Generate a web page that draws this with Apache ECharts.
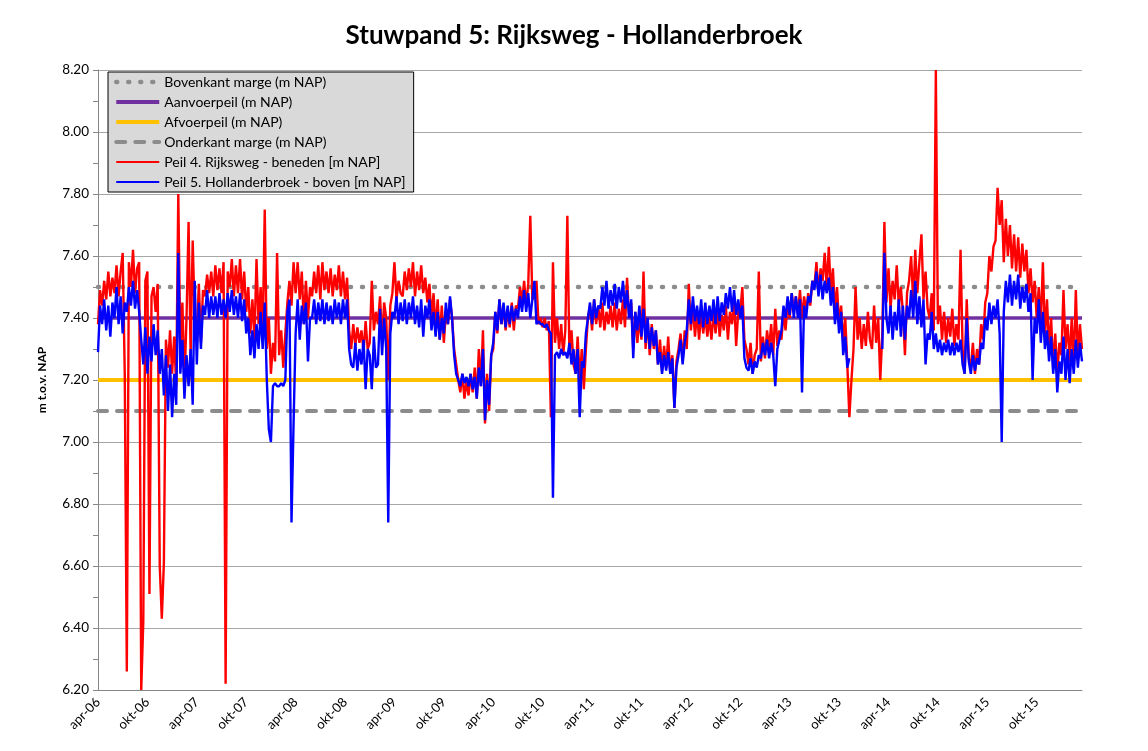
<!DOCTYPE html>
<html>
<head>
<meta charset="utf-8">
<script src="https://cdn.jsdelivr.net/npm/echarts@6/dist/echarts.min.js"></script>
<style>
  html, body { margin: 0; padding: 0; background: #fff; }
  #chart { width: 1148px; height: 751px; }
</style>
</head>
<body>
<div id="chart"></div>
<script>
// x-as: maanden vanaf apr-06, 4 metingen per maand
const STEP = 0.25;
const xLabels = ["apr-06", "okt-06", "apr-07", "okt-07", "apr-08", "okt-08", "apr-09", "okt-09",
  "apr-10", "okt-10", "apr-11", "okt-11", "apr-12", "okt-12", "apr-13", "okt-13",
  "apr-14", "okt-14", "apr-15", "okt-15"];
const yTicks = [6.2, 6.4, 6.6, 6.8, 7.0, 7.2, 7.4, 7.6, 7.8, 8.0, 8.2];

// vaste peilen (m NAP)
const bovenkant = 7.5;
const aanvoerpeil = 7.4;
const afvoerpeil = 7.2;
const onderkant = 7.1;

// Peil 4. Rijksweg - beneden, per jaar (apr t/m mrt)
const peil4 = [
  7.38,7.49,7.44,7.52, 7.46,7.55,7.47,7.53, 7.48,7.57,7.47,7.55, 7.61,7.22,6.26,7.58, 7.50,7.62,7.48,7.56, 7.58,6.20,6.42,7.52,
  7.55,6.51,7.47,7.50, 7.42,7.51,6.60,6.43, 6.61,7.33,7.24,7.36, 7.22,7.34,7.18,7.80, 7.30,7.45,7.19,7.40, 7.71,7.28,7.65,7.40,
  // 2007-08
  7.35,7.51,7.32,7.49, 7.47,7.54,7.48,7.55, 7.47,7.57,7.49,7.56, 7.48,7.58,6.22,7.55, 7.50,7.59,7.47,7.57, 7.48,7.59,7.46,7.55,
  7.42,7.50,7.35,7.46, 7.33,7.59,7.38,7.50, 7.35,7.75,7.30,7.40, 7.22,7.32,7.26,7.61, 7.28,7.36,7.24,7.35, 7.45,7.52,7.44,7.58,
  // 2008-09
  7.48,7.58,7.46,7.55, 7.38,7.52,7.40,7.50, 7.47,7.55,7.48,7.57, 7.46,7.58,7.49,7.55, 7.48,7.56,7.47,7.54, 7.49,7.57,7.47,7.55,
  7.46,7.53,7.36,7.30, 7.38,7.31,7.37,7.32, 7.36,7.29,7.39,7.30, 7.32,7.52,7.36,7.42, 7.38,7.47,7.33,7.45, 7.40,7.20,7.44,7.48,
  // 2009-10
  7.58,7.46,7.52,7.48, 7.47,7.55,7.49,7.56, 7.50,7.58,7.47,7.55, 7.49,7.57,7.48,7.53, 7.45,7.51,7.40,7.48, 7.36,7.46,7.33,7.44,
  7.32,7.42,7.38,7.46, 7.40,7.30,7.25,7.20, 7.16,7.22,7.14,7.20, 7.15,7.22,7.16,7.24, 7.14,7.30,7.18,7.36, 7.06,7.22,7.10,7.28,
  // 2010-11
  7.30,7.42,7.35,7.46, 7.38,7.44,7.36,7.43, 7.37,7.45,7.36,7.44, 7.43,7.50,7.45,7.52, 7.44,7.51,7.73,7.46, 7.47,7.52,7.38,7.40,
  7.37,7.40,7.36,7.39, 7.08,7.58,7.32,7.40, 7.30,7.38,7.28,7.36, 7.73,7.28,7.36,7.25, 7.22,7.34,7.20,7.30, 7.17,7.30,7.40,7.44,
  // 2011-12
  7.36,7.46,7.38,7.44, 7.37,7.45,7.36,7.42, 7.38,7.44,7.37,7.45, 7.36,7.43,7.38,7.46, 7.37,7.53,7.40,7.45, 7.30,7.42,7.32,7.40,
  7.33,7.55,7.30,7.40, 7.28,7.38,7.30,7.36, 7.25,7.33,7.23,7.31, 7.24,7.34,7.22,7.28, 7.11,7.26,7.30,7.35, 7.26,7.36,7.30,7.51,
  // 2012-13
  7.36,7.44,7.34,7.42, 7.33,7.42,7.35,7.41, 7.34,7.40,7.33,7.42, 7.35,7.43,7.34,7.41, 7.36,7.44,7.33,7.42, 7.38,7.46,7.31,7.42,
  7.42,7.50,7.33,7.30, 7.25,7.32,7.22,7.28, 7.30,7.55,7.26,7.34, 7.27,7.36,7.30,7.38, 7.28,7.43,7.31,7.36, 7.33,7.42,7.36,7.45,
  // 2013-14
  7.40,7.48,7.42,7.47, 7.41,7.49,7.40,7.47, 7.42,7.48,7.44,7.52, 7.50,7.58,7.48,7.56, 7.52,7.61,7.50,7.63, 7.48,7.56,7.42,7.50,
  7.38,7.44,7.32,7.40, 7.25,7.08,7.20,7.30, 7.50,7.33,7.40,7.30, 7.38,7.31,7.42,7.33, 7.30,7.44,7.32,7.40, 7.20,7.35,7.71,7.45,
  // 2014-15
  7.56,7.43,7.52,7.46, 7.57,7.44,7.50,7.42, 7.28,7.48,7.52,7.60, 7.45,7.62,7.48,7.58, 7.67,7.46,7.55,7.43, 7.40,7.48,7.36,8.20,
  7.38,7.44,7.33,7.42, 7.32,7.40,7.34,7.43, 7.31,7.38,7.33,7.62, 7.30,7.22,7.46,7.27, 7.24,7.32,7.22,7.30, 7.25,7.38,7.33,7.45,
  // 2015-16
  7.48,7.60,7.55,7.63, 7.65,7.82,7.70,7.78, 7.58,7.72,7.60,7.70, 7.56,7.67,7.55,7.66, 7.53,7.64,7.55,7.62, 7.48,7.56,7.45,7.52,
  7.40,7.50,7.38,7.58, 7.34,7.46,7.30,7.40, 7.24,7.35,7.22,7.32, 7.28,7.49,7.30,7.38, 7.26,7.40,7.24,7.49, 7.27,7.38,7.30
];

// Peil 5. Hollanderbroek - boven
const peil5 = [
  7.29,7.44,7.38,7.46, 7.36,7.44,7.34,7.45, 7.40,7.50,7.38,7.47, 7.35,7.45,7.42,7.50, 7.44,7.52,7.43,7.49, 7.42,7.33,7.25,7.37,
  7.22,7.34,7.26,7.38, 7.28,7.36,7.22,7.30, 7.15,7.28,7.10,7.25, 7.08,7.22,7.12,7.61, 7.22,7.33,7.14,7.28, 7.18,7.30,7.12,7.52,
  // 2007-08
  7.25,7.45,7.30,7.44, 7.41,7.49,7.40,7.47, 7.41,7.47,7.40,7.48, 7.41,7.46,7.40,7.48, 7.42,7.49,7.41,7.47, 7.40,7.48,7.39,7.46,
  7.35,7.40,7.28,7.36, 7.27,7.38,7.30,7.42, 7.30,7.45,7.20,7.04, 7.00,7.18,7.19,7.18, 7.18,7.19,7.18,7.20, 7.42,7.46,6.74,7.06,
  // 2008-09
  7.35,7.46,7.33,7.44, 7.38,7.45,7.26,7.40, 7.40,7.46,7.38,7.45, 7.39,7.46,7.38,7.45, 7.39,7.44,7.38,7.46, 7.40,7.45,7.38,7.46,
  7.40,7.46,7.30,7.25, 7.24,7.32,7.23,7.30, 7.25,7.33,7.17,7.30, 7.28,7.17,7.34,7.24, 7.25,7.43,7.28,7.40, 7.30,6.74,7.35,7.42,
  // 2009-10
  7.40,7.47,7.38,7.45, 7.39,7.46,7.38,7.45, 7.40,7.47,7.38,7.44, 7.37,7.46,7.34,7.44, 7.40,7.46,7.36,7.42, 7.34,7.42,7.33,7.40,
  7.35,7.45,7.38,7.47, 7.40,7.28,7.22,7.20, 7.18,7.22,7.19,7.21, 7.18,7.22,7.17,7.21, 7.14,7.24,7.18,7.30, 7.07,7.20,7.12,7.28,
  // 2010-11
  7.32,7.42,7.36,7.46, 7.38,7.45,7.37,7.44, 7.38,7.44,7.39,7.43, 7.40,7.47,7.42,7.49, 7.42,7.48,7.40,7.46, 7.52,7.38,7.39,7.38,
  7.38,7.37,7.38,7.36, 7.35,6.82,7.28,7.29, 7.27,7.30,7.28,7.29, 7.27,7.32,7.25,7.30, 7.22,7.30,7.08,7.26, 7.24,7.35,7.40,7.45,
  // 2011-12
  7.38,7.46,7.40,7.44, 7.43,7.50,7.44,7.52, 7.43,7.49,7.44,7.51, 7.43,7.50,7.45,7.52, 7.43,7.49,7.40,7.46, 7.27,7.42,7.36,7.44,
  7.34,7.43,7.32,7.40, 7.30,7.37,7.31,7.36, 7.25,7.29,7.22,7.28, 7.23,7.29,7.22,7.27, 7.11,7.24,7.28,7.33, 7.25,7.32,7.36,7.46,
  // 2012-13
  7.38,7.47,7.39,7.44, 7.38,7.46,7.37,7.45, 7.38,7.44,7.39,7.46, 7.38,7.47,7.39,7.45, 7.41,7.48,7.43,7.50, 7.42,7.49,7.41,7.46,
  7.40,7.44,7.27,7.24, 7.23,7.27,7.22,7.26, 7.24,7.28,7.27,7.32, 7.28,7.33,7.27,7.32, 7.28,7.18,7.30,7.33, 7.36,7.44,7.40,7.47,
  // 2013-14 (gat in de meetreeks)
  7.41,7.48,7.40,7.47, 7.40,7.46,7.16,7.44, 7.40,7.47,7.45,7.52, 7.49,7.55,7.47,7.54, 7.46,7.52,7.48,7.53, 7.44,7.50,7.38,7.45,
  7.35,7.42,7.28,7.34, 7.24,7.27,null,null, null,null,null,null, null,null,null,null, null,null,null,null, null,7.30,7.61,7.40,
  // 2014-15
  7.35,7.44,7.33,7.42, 7.36,7.46,7.34,7.44, 7.33,7.44,7.40,7.49, 7.40,7.52,7.38,7.47, 7.37,7.46,7.25,7.35, 7.33,7.42,7.30,7.35,
  7.29,7.33,7.28,7.32, 7.29,7.33,7.28,7.32, 7.28,7.32,7.29,7.33, 7.25,7.22,7.40,7.26, 7.22,7.28,7.23,7.27, 7.25,7.32,7.30,7.40,
  // 2015-16
  7.36,7.45,7.38,7.44, 7.40,7.46,7.35,7.00, 7.42,7.52,7.45,7.54, 7.44,7.52,7.46,7.54, 7.43,7.50,7.45,7.51, 7.42,7.48,7.20,7.40,
  7.35,7.46,7.32,7.42, 7.30,7.36,7.26,7.34, 7.22,7.30,7.16,7.26, 7.22,7.34,7.20,7.30, 7.19,7.30,7.22,7.33, 7.24,7.32,7.26
];

const xMax = (peil4.length - 1) * STEP;
const toPoints = (arr) => arr.map((v, i) => [i * STEP, v]);
const flat = (v) => [[0, v], [xMax, v]];

const FONT = "Lato, 'Open Sans', sans-serif";

const chart = echarts.init(document.getElementById("chart"), null, { renderer: "canvas" });

const styles = {
  bovenkant: { color: "#8c8c8c", width: 4.5, type: [1, 11], cap: "round" },
  aanvoer: { color: "#7030a0", width: 3.5 },
  afvoer: { color: "#ffc000", width: 4 },
  onderkant: { color: "#8c8c8c", width: 4, type: [9, 10], cap: "round" },
  peil4: { color: "#ff0000", width: 2.4 },
  peil5: { color: "#0000ff", width: 2.4 },
};

// legenda zonder puntsymbool, alleen de lijn
const noDot = { opacity: 0 };

chart.setOption({
  backgroundColor: "#fff",
  animation: false,
  title: {
    text: "Stuwpand 5: Rijksweg - Hollanderbroek",
    left: "center",
    top: 18,
    textStyle: { fontFamily: FONT, fontSize: 26, fontWeight: "bold", color: "#000" },
  },
  legend: {
    orient: "vertical",
    left: 108,
    top: 72,
    padding: [3, 8, 3, 6],
    itemWidth: 43,
    itemHeight: 14,
    itemGap: 6,
    backgroundColor: "#d9d9d9",
    borderColor: "#000",
    borderWidth: 1,
    borderRadius: 0,
    selectedMode: false,
    itemStyle: noDot,
    textStyle: { fontFamily: FONT, fontSize: 14, color: "#000" },
    data: [
      { name: "Bovenkant marge (m NAP)", itemStyle: noDot, lineStyle: { width: 4.5, type: [1, 11], cap: "round" } },
      { name: "Aanvoerpeil (m NAP)", itemStyle: noDot, lineStyle: { width: 4 } },
      { name: "Afvoerpeil (m NAP)", itemStyle: noDot, lineStyle: { width: 4 } },
      { name: "Onderkant marge (m NAP)", itemStyle: noDot, lineStyle: { width: 4, type: [9, 10], cap: "round" } },
      { name: "Peil 4. Rijksweg - beneden [m NAP]", itemStyle: noDot, lineStyle: { width: 2 } },
      { name: "Peil 5. Hollanderbroek - boven [m NAP]", itemStyle: noDot, lineStyle: { width: 2 } },
    ],
  },
  grid: { left: 98, right: 66, top: 70, bottom: 61, containLabel: false },
  xAxis: {
    type: "value",
    min: 0,
    max: xMax,
    interval: 6,
    axisLine: { lineStyle: { color: "#868686", width: 1 } },
    axisTick: { show: false },
    splitLine: { show: false },
    axisLabel: {
      rotate: 45,
      margin: 10,
      fontFamily: FONT,
      fontSize: 13,
      color: "#000",
      showMaxLabel: false,
      formatter: (v) => (v % 6 === 0 ? (xLabels[v / 6] || "") : ""),
    },
  },
  yAxis: {
    type: "value",
    min: yTicks[0],
    max: yTicks[yTicks.length - 1],
    interval: 0.2,
    name: "m t.o.v. NAP",
    nameLocation: "middle",
    nameGap: 50,
    nameTextStyle: { fontFamily: FONT, fontSize: 12, fontWeight: "bold", color: "#000" },
    axisLine: { show: true, lineStyle: { color: "#868686", width: 1 } },
    axisTick: { show: true, length: 5, lineStyle: { color: "#868686" } },
    minorTick: { show: true, splitNumber: 2, length: 5, lineStyle: { color: "#868686" } },
    splitLine: { show: true, lineStyle: { color: "#a6a6a6", width: 1 } },
    axisLabel: {
      margin: 9,
      fontFamily: FONT,
      fontSize: 13.5,
      color: "#000",
      formatter: (v) => v.toFixed(2),
    },
  },
  series: [
    { name: "Bovenkant marge (m NAP)", type: "line", symbol: "none", data: flat(bovenkant),
      lineStyle: styles.bovenkant, itemStyle: { color: styles.bovenkant.color } },
    { name: "Aanvoerpeil (m NAP)", type: "line", symbol: "none", data: flat(aanvoerpeil),
      lineStyle: styles.aanvoer, itemStyle: { color: styles.aanvoer.color } },
    { name: "Afvoerpeil (m NAP)", type: "line", symbol: "none", data: flat(afvoerpeil),
      lineStyle: styles.afvoer, itemStyle: { color: styles.afvoer.color } },
    { name: "Onderkant marge (m NAP)", type: "line", symbol: "none", data: flat(onderkant),
      lineStyle: styles.onderkant, itemStyle: { color: styles.onderkant.color } },
    { name: "Peil 4. Rijksweg - beneden [m NAP]", type: "line", symbol: "none", data: toPoints(peil4),
      lineStyle: styles.peil4, itemStyle: { color: styles.peil4.color }, connectNulls: false },
    { name: "Peil 5. Hollanderbroek - boven [m NAP]", type: "line", symbol: "none", data: toPoints(peil5),
      lineStyle: styles.peil5, itemStyle: { color: styles.peil5.color }, connectNulls: false },
  ],
});
</script>
</body>
</html>
